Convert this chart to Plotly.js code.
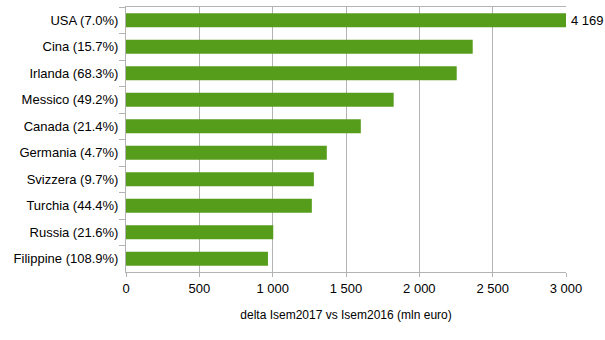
<!DOCTYPE html>
<html>
<head>
<meta charset="utf-8">
<script src="https://cdn.plot.ly/plotly-3.0.1.min.js"></script>
<style>html,body{margin:0;padding:0;background:#fff;}#chart{width:605px;height:340px;}</style>
</head>
<body>
<div id="chart"></div>
<script>
var countries = ["USA", "Cina", "Irlanda", "Messico", "Canada", "Germania", "Svizzera", "Turchia", "Russia", "Filippine"];
var pctChange = ["7.0%", "15.7%", "68.3%", "49.2%", "21.4%", "4.7%", "9.7%", "44.4%", "21.6%", "108.9%"];
var deltaValues = [4169, 2364, 2255, 1825, 1601, 1369, 1281, 1267, 1004, 968];
var xTickVals = [0, 500, 1000, 1500, 2000, 2500, 3000];
var xMax = 3000;

var labels = countries.map(function (c, i) { return c + " (" + pctChange[i] + ")"; });

var fmt = function (v) { return String(v).replace(/\B(?=(\d{3})+(?!\d))/g, " "); };

var annotations = [];
deltaValues.forEach(function (v, i) {
  if (v > xMax) {
    annotations.push({
      x: xMax, y: labels[i], xref: "x", yref: "y",
      text: fmt(v), showarrow: false, xanchor: "left", xshift: 3,
      font: {family: "Liberation Sans, Arial, sans-serif", size: 13, color: "#000"}
    });
  }
});

var trace = {
  type: "bar", orientation: "h",
  x: deltaValues, y: labels,
  marker: {color: "#579d1c"},
  hoverinfo: "x+y"
};

var layout = {
  width: 605, height: 340,
  margin: {l: 126, r: 39, t: 7, b: 68},
  paper_bgcolor: "#fff", plot_bgcolor: "#fff",
  font: {family: "Liberation Sans, Arial, sans-serif", size: 13, color: "#000"},
  separators: ". ",
  bargap: 0.47,
  showlegend: false,
  xaxis: {
    range: [0, xMax], tickvals: xTickVals, tickformat: ",d",
    showgrid: true, gridcolor: "#b3b3b3", gridwidth: 1,
    zeroline: false,
    showline: true, linecolor: "#b3b3b3", mirror: true,
    ticks: "outside", ticklen: 4, tickcolor: "#b3b3b3",
    title: {text: "delta Isem2017 vs Isem2016 (mln euro)", font: {size: 12}, standoff: 16},
    fixedrange: true
  },
  yaxis: {
    type: "category", categoryorder: "array", categoryarray: labels,
    autorange: "reversed",
    showgrid: false, zeroline: false,
    showline: true, linecolor: "#b3b3b3",
    ticks: "outside", tickson: "boundaries", ticklen: 6, tickcolor: "#b3b3b3",
    ticklabelstandoff: 4,
    fixedrange: true
  },
  annotations: annotations
};

Plotly.newPlot("chart", [trace], layout, {displayModeBar: false, staticPlot: true});
</script>
</body>
</html>
